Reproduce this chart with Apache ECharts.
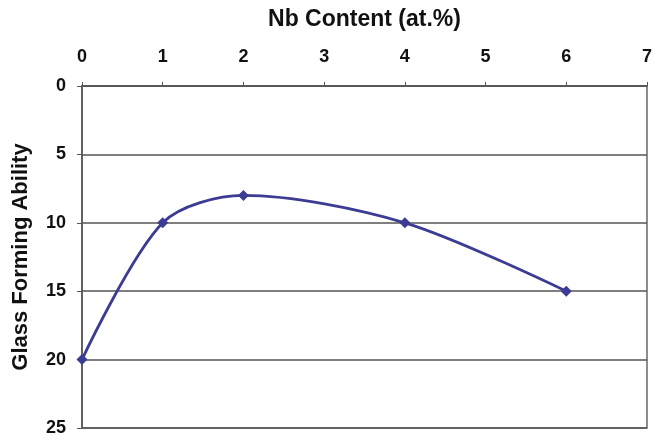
<!DOCTYPE html>
<html><head><meta charset="utf-8">
<script src="https://cdn.jsdelivr.net/npm/echarts@6/dist/echarts.min.js"></script>
<style>html,body{margin:0;padding:0;background:#fff}#c{width:655px;height:437px}</style>
</head><body><div id="c"></div>
<script>
const nbContent = [0, 1, 2, 4, 6];
const gfa = [20, 10, 8, 10, 15];
const xTitle = 'Nb Content (at.%)';
const yTitle = 'Glass Forming Ability';

const chart = echarts.init(document.getElementById('c'));
const font = 'Liberation Sans, Arial, sans-serif';
chart.setOption({
  animation: false,
  backgroundColor: '#fff',
  grid: {left: 82, right: 5, top: 86, bottom: 9, show: true, borderColor: '#666', borderWidth: 1.5},
  xAxis: {
    type: 'value', position: 'top', min: 0, max: 7, interval: 1,
    name: xTitle, nameLocation: 'middle', nameGap: 55,
    nameTextStyle: {fontFamily: font, fontWeight: 'bold', fontSize: 23, color: '#111'},
    axisLine: {show: true, lineStyle: {color: '#555', width: 1.5}},
    axisTick: {show: true, inside: false, length: 4, lineStyle: {color: '#555'}},
    axisLabel: {fontFamily: font, fontWeight: 'bold', fontSize: 18, color: '#111', margin: 20},
    splitLine: {show: false}
  },
  yAxis: {
    type: 'value', inverse: true, min: 0, max: 25, interval: 5,
    name: yTitle, nameLocation: 'middle', nameGap: 50,
    nameTextStyle: {fontFamily: font, fontWeight: 'bold', fontSize: 22, color: '#111'},
    axisLine: {show: true, lineStyle: {color: '#555', width: 1.5}},
    axisTick: {show: true, inside: false, length: 5, lineStyle: {color: '#555'}},
    axisLabel: {fontFamily: font, fontWeight: 'bold', fontSize: 18, color: '#111', margin: 16},
    splitLine: {show: true, lineStyle: {color: '#555', width: 1.5}}
  },
  series: [{
    type: 'line', smooth: 0.3,
    data: nbContent.map((x, i) => [x, gfa[i]]),
    symbol: 'diamond', symbolSize: 11,
    lineStyle: {color: '#3c3c94', width: 2.8},
    itemStyle: {color: '#3c3c94'}
  }]
});
</script></body></html>
